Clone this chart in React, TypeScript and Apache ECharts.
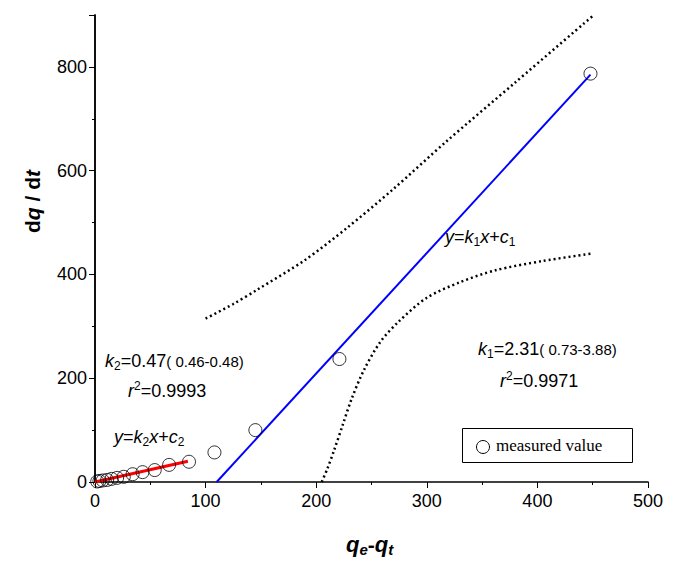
import React, { useEffect, useRef } from "react";
import * as echarts from "echarts";

const measuredX = [2, 4, 7, 11, 15, 20, 26, 34, 43, 54, 67, 85, 108, 145, 221, 448];
const measuredY = [1, 2, 3, 4, 6, 8, 10, 15, 19, 23, 33, 39, 57, 100, 237, 787];
const fit1 = [[110, 0], [448, 785]];
const fit2 = [[0, 0], [84, 40]];
const upperBand = [[100, 315], [125, 343], [147, 371], [190, 428], [228, 490], [270, 565], [317, 655], [380, 770], [451, 900]];
const lowerBand = [[205, 0], [210, 25], [216, 60], [224, 110], [232, 160], [243, 215], [258, 270], [275, 310], [300, 355], [330, 385], [362, 408], [405, 426], [448, 440]];

const font = "Liberation Sans";
// container sits inside the body's 8px margin
const o = 8;

const App: React.FC = () => {
  const ref = useRef<HTMLDivElement>(null);
  useEffect(() => {
    if (!ref.current) return;
    const chart = echarts.init(ref.current, null, { renderer: "svg" });
    const rich = {
      i: { fontStyle: "italic", fontSize: 18, fontFamily: font },
      n: { fontSize: 18, fontFamily: font },
      s: { fontSize: 12, fontFamily: font, padding: [10, 0, 0, 0] },
      p: { fontSize: 12, fontFamily: font, padding: [0, 0, 10, 0] },
      t: { fontSize: 15, fontFamily: font },
    };
    const text = (x: number, y: number, t: string) => ({
      type: "text", left: x - o, top: y - o,
      style: { text: t, rich, fill: "#000", font: `18px ${font}` },
    });
    const axisBase = {
      axisLine: { show: true, onZero: false, lineStyle: { color: "#000", width: 1.5 } },
      axisTick: { show: true, length: 6, lineStyle: { color: "#000" } },
      minorTick: { show: true, splitNumber: 2, length: 3, lineStyle: { color: "#000" } },
      splitLine: { show: false },
    };
    chart.setOption({
      animation: false,
      grid: { left: 95 - o, right: 666 - 655, top: 15 - o, bottom: 562 - 482 },
      xAxis: {
        type: "value", min: 0, max: 500, interval: 100, ...axisBase,
        axisLabel: { color: "#000", fontSize: 18, fontFamily: font, margin: 10 },
      },
      yAxis: [{
        type: "value", min: 0, max: 900, interval: 200, ...axisBase,
        axisLabel: { color: "#000", fontSize: 18, fontFamily: font, showMaxLabel: false },
      }, {
        type: "value", min: 0, max: 900, position: "right",
        axisLine: { show: true, lineStyle: { color: "#000", width: 1.5 } },
        axisTick: { show: false }, axisLabel: { show: false }, splitLine: { show: false },
      }],
      graphic: [
        {
          type: "text", left: 22 - o, top: 170 - o, rotation: Math.PI / 2,
          style: {
            text: "{b|d}{bi|q}{b| / d}{bi|t}",
            rich: {
              b: { fontSize: 21, fontWeight: "bold", fontFamily: font },
              bi: { fontSize: 21, fontWeight: "bold", fontStyle: "italic", fontFamily: font },
            },
          },
        },
        {
          type: "text", left: 346 - o, top: 533 - o,
          style: {
            text: "{bi|q}{bs|e}{b|-}{bi|q}{bs|t}",
            rich: {
              b: { fontSize: 21, fontWeight: "bold", fontFamily: font },
              bi: { fontSize: 22, fontWeight: "bold", fontStyle: "italic", fontFamily: font },
              bs: { fontSize: 15, fontWeight: "bold", fontStyle: "italic", fontFamily: font, padding: [10, 0, 0, 0] },
            },
          },
        },
        text(105, 352, "{i|k}{s|2}{n|=0.47}{t|( 0.46-0.48)}"),
        text(128, 380, "{i|r}{p|2}{n|=0.9993}"),
        text(114, 428, "{i|y}{n|=}{i|k}{s|2}{i|x}{n|+}{i|c}{s|2}"),
        text(445, 228, "{i|y}{n|=}{i|k}{s|1}{i|x}{n|+}{i|c}{s|1}"),
        text(478, 340, "{i|k}{s|1}{n|=2.31}{t|( 0.73-3.88)}"),
        text(500, 370, "{i|r}{p|2}{n|=0.9971}"),
        { type: "rect", left: 462 - o, top: 428 - o, shape: { width: 170, height: 34 }, style: { fill: "#fff", stroke: "#000", lineWidth: 1 } },
        { type: "circle", left: 474 - o, top: 438 - o, shape: { r: 6.5 }, style: { fill: "none", stroke: "#000", lineWidth: 1 } },
        { type: "text", left: 496 - o, top: 437 - o, style: { text: "measured value", font: `17px "Liberation Serif"`, fill: "#000" } },
      ],
      series: [
        { type: "line", data: upperBand, smooth: 0.3, showSymbol: false, lineStyle: { color: "#000", type: [2, 3], width: 2.5 } },
        { type: "line", data: lowerBand, smooth: 0.3, showSymbol: false, lineStyle: { color: "#000", type: [2, 3], width: 2.5 } },
        { type: "line", data: fit1, showSymbol: false, lineStyle: { color: "#0000ff", width: 2 } },
        { type: "line", data: fit2, showSymbol: false, lineStyle: { color: "#ff0000", width: 3 } },
        {
          type: "scatter", data: measuredX.map((x, i) => [x, measuredY[i]]), symbol: "circle", symbolSize: 13,
          itemStyle: { color: "rgba(0,0,0,0)", borderColor: "#000", borderWidth: 1 }, z: 5,
        },
      ],
    });
    return () => chart.dispose();
  }, []);
  return <div ref={ref} style={{ width: 658, height: 554 }} />;
};

export default App;
